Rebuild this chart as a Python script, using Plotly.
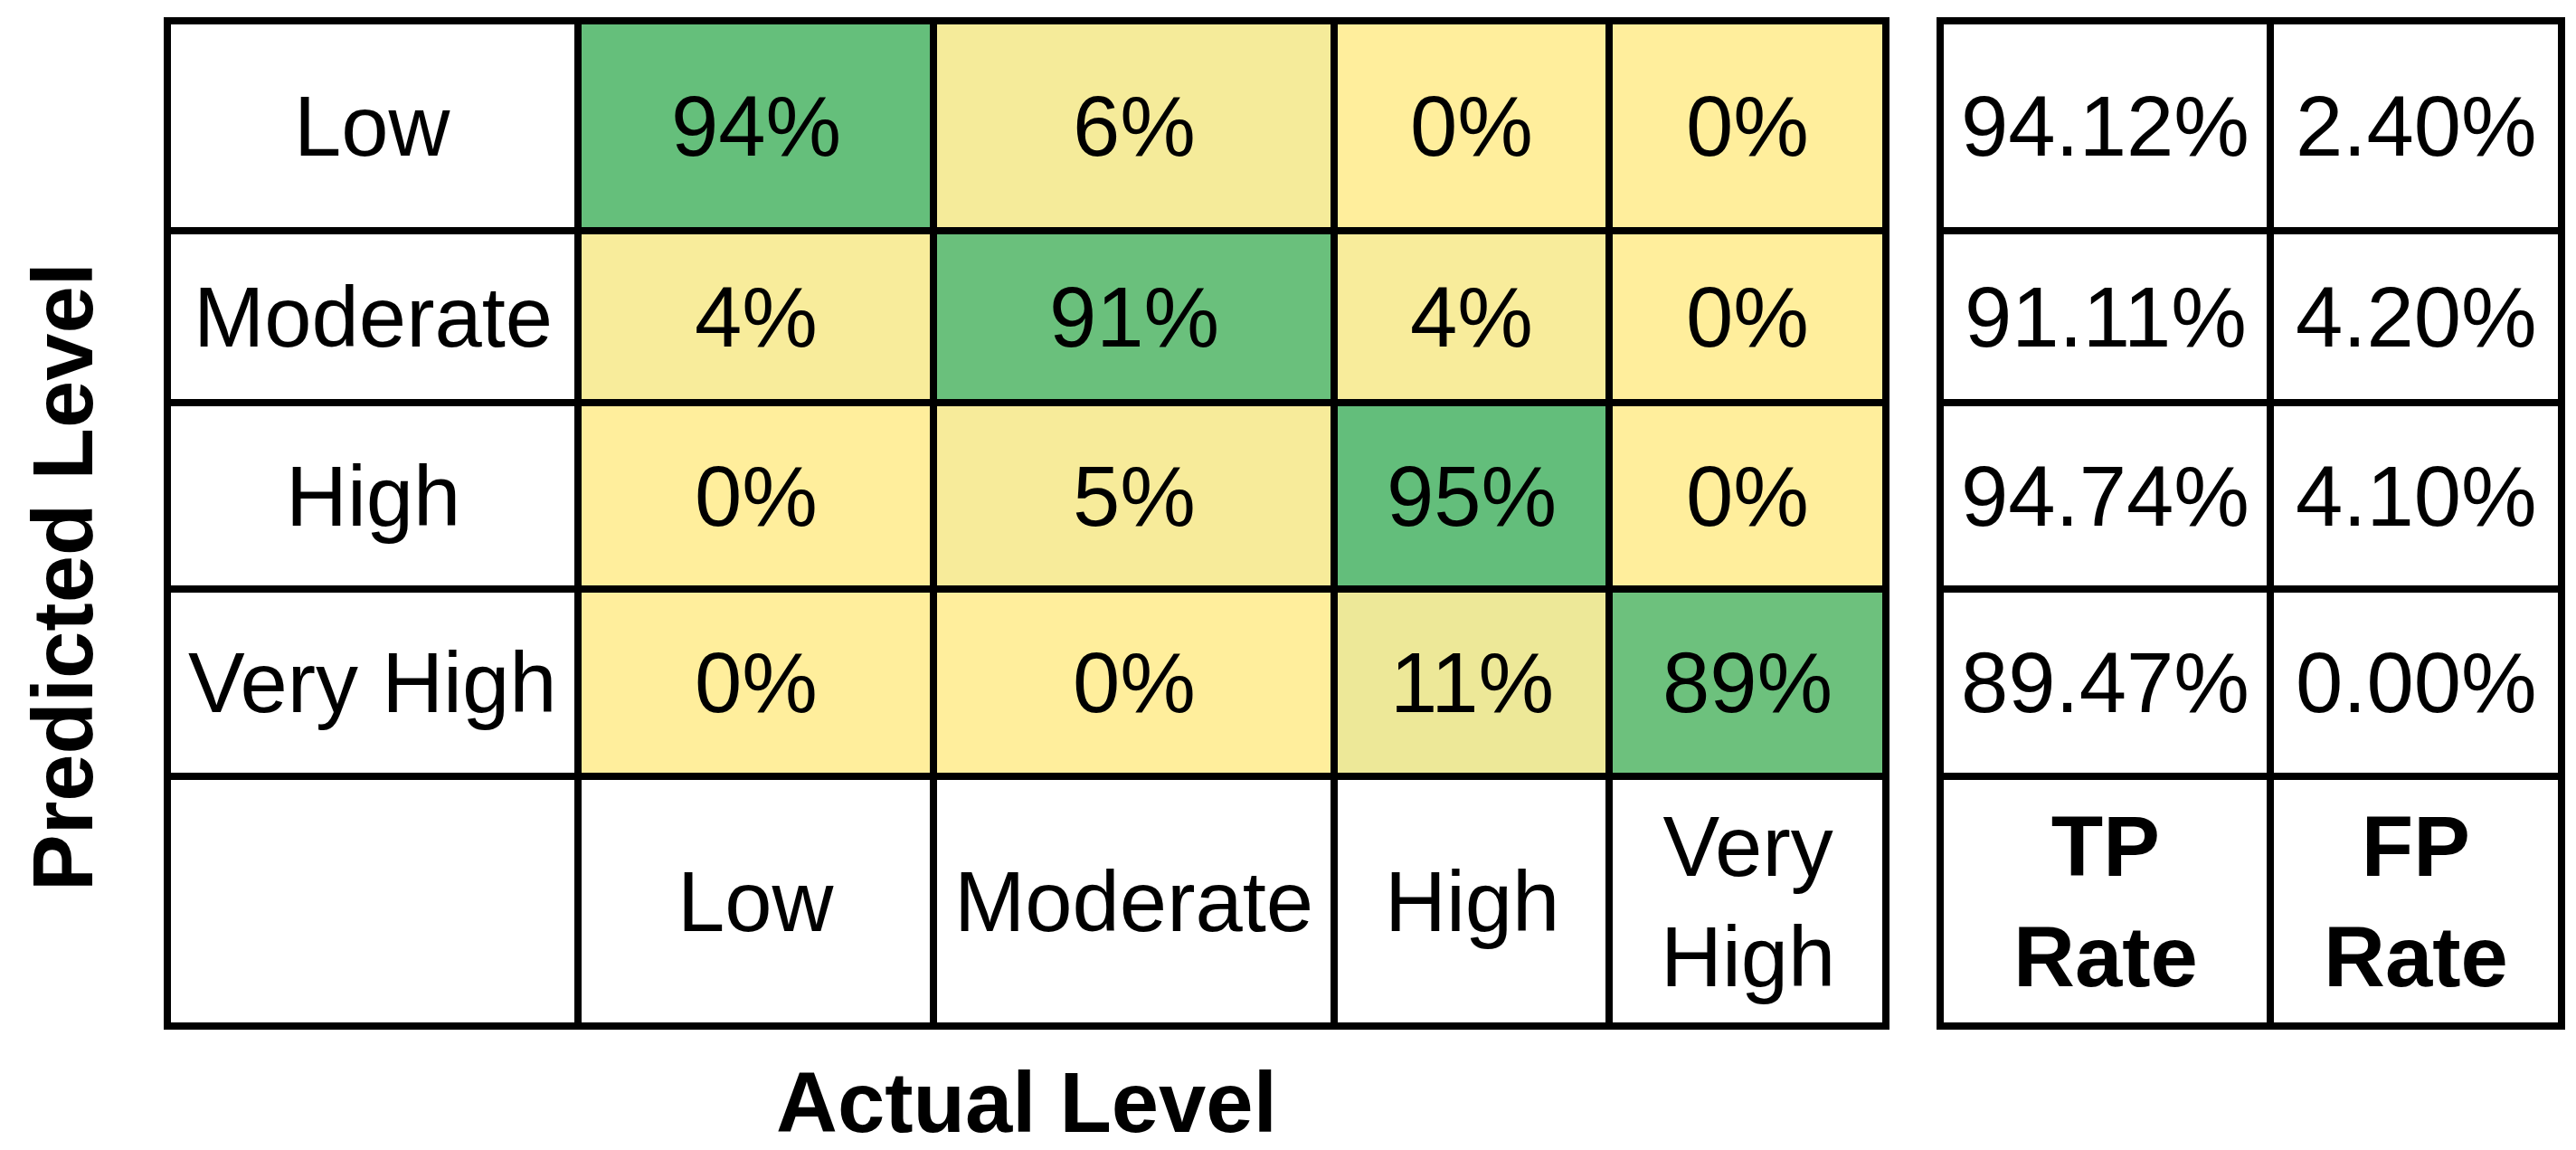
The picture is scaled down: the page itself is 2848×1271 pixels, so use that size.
import plotly.graph_objects as go

# ---------------- data ----------------
actual_levels = ["Low", "Moderate", "High", "Very High"]
predicted_levels = ["Low", "Moderate", "High", "Very High"]
confusion_pct = [
    [94, 6, 0, 0],
    [4, 91, 4, 0],
    [0, 5, 95, 0],
    [0, 0, 11, 89],
]
tp_rate = [94.12, 91.11, 94.74, 89.47]
fp_rate = [2.40, 4.20, 4.10, 0.00]
rate_headers = ["TP Rate", "FP Rate"]
x_title = "Actual Level"
y_title = "Predicted Level"

# ---------------- layout / style ----------------
W, H = 2848, 1271
main_col_w = [454, 393, 443, 304, 306]   # label column + 4 data columns
rate_col_w = [365, 322]
row_h = [232, 190, 206, 207, 276]        # 4 data rows + header row
main_left, main_right = 177, 2077
rate_left, rate_right = 2137, 2824
table_top, table_bottom = 15, 1126
GAP = 8
FONT = "Liberation Sans, Arial, sans-serif"
FS = 94
color_low, color_high = "#FFEE9C", "#63BE7B"


def edges(ws):
    e = [0]
    for w in ws:
        e.append(e[-1] + w)
    return e


def centers(e):
    return [(a + b) / 2 for a, b in zip(e[:-1], e[1:])]


xe = edges(main_col_w)
ye = edges(row_h)
xr = edges(rate_col_w)
xc, yc, xrc = centers(xe), centers(ye), centers(xr)
n, m = len(predicted_levels), len(actual_levels)

z_data = [[None] * (m + 1) for _ in range(n + 1)]
z_lab = [[None] * (m + 1) for _ in range(n + 1)]
for i in range(n + 1):
    for j in range(m + 1):
        if i < n and j >= 1:
            z_data[i][j] = confusion_pct[i][j - 1]
        else:
            z_lab[i][j] = 0
z_rate = [[0] * len(rate_headers) for _ in range(n + 1)]

flat = [v for row in confusion_pct for v in row]

fig = go.Figure()
fig.add_trace(go.Heatmap(
    x=xe, y=ye, z=z_lab, colorscale=[[0, "white"], [1, "white"]],
    showscale=False, xgap=GAP, ygap=GAP, hoverinfo="skip",
    xaxis="x", yaxis="y"))
fig.add_trace(go.Heatmap(
    x=xe, y=ye, z=z_data, colorscale=[[0, color_low], [1, color_high]],
    zmin=min(flat), zmax=max(flat),
    showscale=False, xgap=GAP, ygap=GAP, hoverinfo="skip",
    xaxis="x", yaxis="y"))
fig.add_trace(go.Heatmap(
    x=xr, y=ye, z=z_rate, colorscale=[[0, "white"], [1, "white"]],
    showscale=False, xgap=GAP, ygap=GAP, hoverinfo="skip",
    xaxis="x2", yaxis="y2"))

ann = []
font = dict(family=FONT, size=FS, color="black")
# row labels
for i, lab in enumerate(predicted_levels):
    ann.append(dict(x=xc[0], y=yc[i], xref="x", yref="y", text=lab,
                    showarrow=False, font=font))
# column headers
for j, lab in enumerate(actual_levels):
    ann.append(dict(x=xc[j + 1], y=yc[n], xref="x", yref="y",
                    text=lab.replace(" ", "<br>"), showarrow=False, font=font))
# matrix values
for i in range(n):
    for j in range(m):
        ann.append(dict(x=xc[j + 1], y=yc[i], xref="x", yref="y",
                        text=f"{confusion_pct[i][j]}%", showarrow=False, font=font))
# rates
for i in range(n):
    for k, vals in enumerate([tp_rate, fp_rate]):
        ann.append(dict(x=xrc[k], y=yc[i], xref="x2", yref="y2",
                        text=f"{vals[i]:.2f}%", showarrow=False, font=font))
for k, lab in enumerate(rate_headers):
    ann.append(dict(x=xrc[k], y=yc[n], xref="x2", yref="y2",
                    text="<b>" + lab.replace(" ", "<br>") + "</b>",
                    showarrow=False, font=font))
# titles
ann.append(dict(x=(main_left + main_right) / 2 / W, y=1 - 1210 / H,
                xref="paper", yref="paper", text=f"<b>{x_title}</b>",
                showarrow=False, font=font, xanchor="center", yanchor="middle"))
ann.append(dict(x=62 / W, y=1 - 630 / H, xref="paper", yref="paper",
                text=f"<b>{y_title}</b>", textangle=-90,
                showarrow=False, font=font, xanchor="center", yanchor="middle"))

ydom = [1 - table_bottom / H, 1 - table_top / H]
axis_common = dict(showgrid=False, zeroline=False, showticklabels=False,
                   ticks="", showline=True, linecolor="black", linewidth=GAP // 2,
                   mirror=True, fixedrange=True)

fig.update_layout(
    width=W, height=H, autosize=False,
    margin=dict(l=0, r=0, t=0, b=0),
    paper_bgcolor="white", plot_bgcolor="black",
    showlegend=False,
    xaxis=dict(domain=[main_left / W, main_right / W], range=[0, xe[-1]], **axis_common),
    yaxis=dict(domain=ydom, range=[ye[-1], 0], **axis_common),
    xaxis2=dict(domain=[rate_left / W, rate_right / W], range=[0, xr[-1]],
                anchor="y2", **axis_common),
    yaxis2=dict(domain=ydom, range=[ye[-1], 0], anchor="x2", **axis_common),
    annotations=ann,
)

fig.write_html("out.html")
